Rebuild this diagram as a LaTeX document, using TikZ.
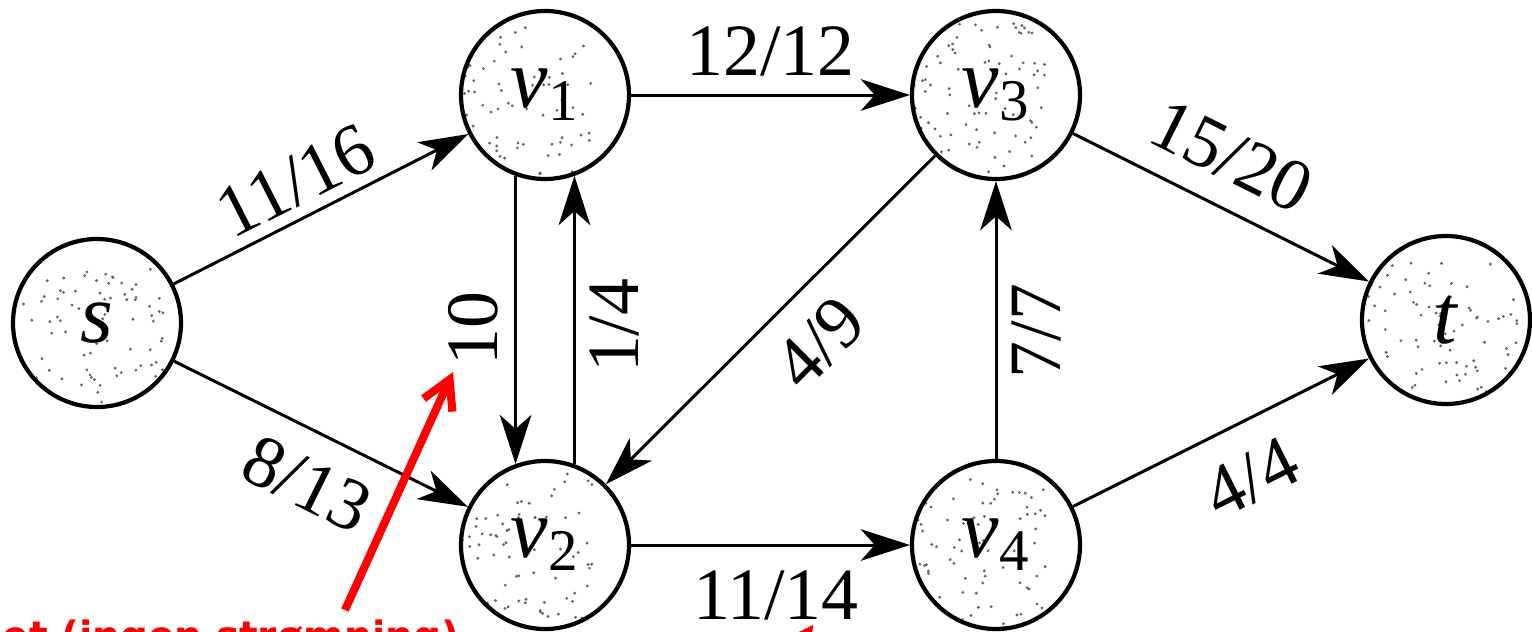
\documentclass[tikz,border=0pt]{standalone}
\usepackage{fontspec}
\setmainfont{Liberation Serif}
\newfontfamily\lblfont{Liberation Serif}
\newfontfamily\notefont{DejaVu Sans}
\usetikzlibrary{positioning}
\usetikzlibrary{arrows.meta}

\tikzset{
    vtx/.style={circle, draw, line width=1.2pt, minimum size=1.68cm, inner sep=0pt, on grid,
        font=\lblfont\fontsize{24}{28}\selectfont,
        path picture={\foreach \k in {1,...,110}
            \fill[black!60, shift={(path picture bounding box.center)}] ({0.84*rand},{0.84*rand}) circle (0.45pt);}},
    flow/.style={line width=0.85pt, -{Stealth[length=14pt,width=9pt,inset=4pt]}},
    lbl/.style={font=\lblfont\fontsize{21}{23}\selectfont, inner sep=2pt},
    note/.style={font=\notefont\bfseries\fontsize{11.1}{13}\selectfont, text=red, inner sep=0pt},
    pointer/.style={red, line width=2.3pt, -{Straight Barb[length=8pt,width=9pt]}},
}

\begin{document}
\pgfmathsetseed{11}
\begin{tikzpicture}
    \useasboundingbox (0,0) rectangle (15.32,6.31);
    \clip (0,0) rectangle (15.32,6.31);

    \node[vtx] (s) at (0.97,3.08) {\textit{s}};
    \node[vtx, above right=2.28cm and 4.48cm of s] (v1) {\textit{v}\textsubscript{1}};
    \node[vtx, below right=2.22cm and 4.48cm of s] (v2) {\textit{v}\textsubscript{2}};
    \node[vtx, right=4.51cm of v1] (v3) {\textit{v}\textsubscript{3}};
    \node[vtx, right=4.51cm of v2] (v4) {\textit{v}\textsubscript{4}};
    \node[vtx, below right=2.25cm and 4.5cm of v3] (t) {\textit{t}};

    \draw[flow] (s) -- node[lbl, pos=0.47, sloped, above=1pt] (f1) {11/16} (v1);
    \draw[flow] (s) -- node[lbl, pos=0.53, sloped, below=5pt] (f2) {8/13} (v2);
    \draw[flow] (v1.250) -- node[lbl, pos=0.53, rotate=90, anchor=south, inner sep=4.5pt] (f3) {10} (v2.110);
    \draw[flow] (v2.70) -- node[lbl, pos=0.48, rotate=90, anchor=north, inner sep=4pt] (f4) {1/4} (v1.290);
    \draw[flow] (v1) -- node[lbl, above=3pt] (f5) {12/12} (v3);
    \draw[flow] (v3) -- node[lbl, pos=0.46, sloped, below=5pt] (f6) {4/9} (v2);
    \draw[flow] (v2) -- node[lbl, pos=0.52, below=5pt] (f7) {11/14} (v4);
    \draw[flow] (v4) -- node[lbl, pos=0.46, rotate=90, anchor=north, inner sep=4pt] (f8) {7/7} (v3);
    \draw[flow] (v3) -- node[lbl, pos=0.46, sloped, above=5pt] (f9) {15/20} (t);
    \draw[flow] (v4) -- node[lbl, pos=0.52, sloped, below=6pt] (f10) {4/4} (t);

    \node[note, anchor=base east] (note) at (4.6,-0.18) {et (ingen strømning)};
    \coordinate (tail10) at (3.45,0.21);
    \coordinate (tip10) at (4.53,2.59);
    \draw[pointer] (tail10) -- (tip10);
    \coordinate (tail14) at (7.40,-1.00);
    \coordinate (tip14) at (8.13,0.06);
    \draw[pointer] (tail14) -- (tip14);
\end{tikzpicture}
\end{document}
